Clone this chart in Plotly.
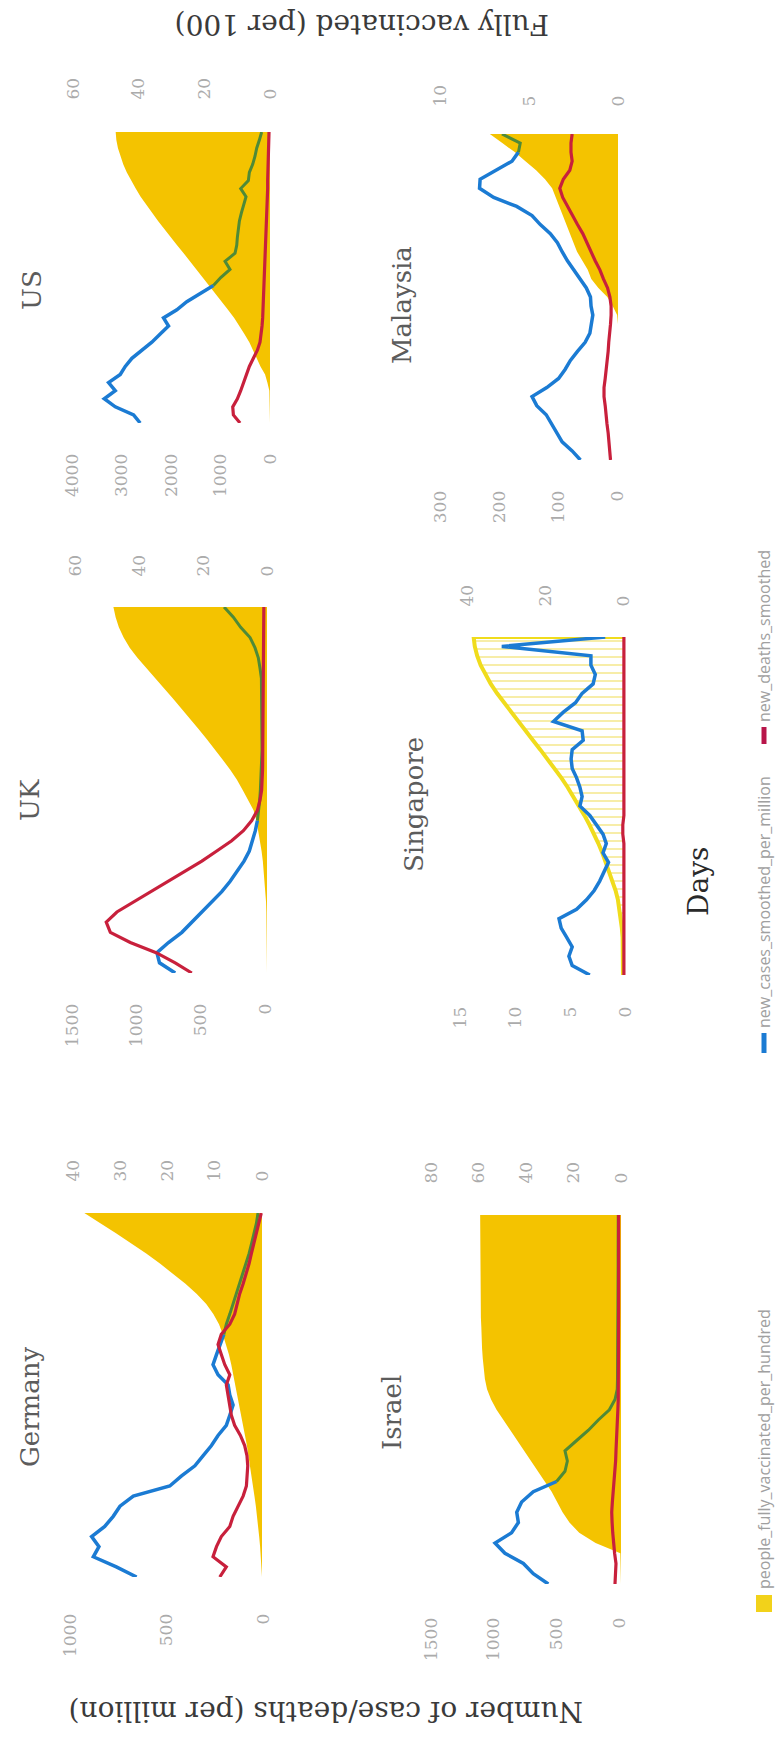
import plotly.graph_objects as go

W, H = 775, 1741

# ---------------- data ----------------
DAYS = [0, 5, 10, 15, 20, 25, 30, 35, 40, 45, 50, 55, 60, 65, 70, 75, 80, 85, 90,
        95, 100, 105, 110, 115, 120, 125, 130, 135, 140, 145, 150, 155, 160, 165,
        170, 175, 180]

COUNTRIES = ["Germany", "UK", "US", "Israel", "Singapore", "Malaysia"]

GERMANY_CASES = [655, 760, 879, 850, 888, 820, 776, 741, 672, 483, 422, 353, 310, 267, 233, 190,
                 172, 155, 172, 181, 233, 259, 241, 224, 203, 190, 172, 155, 141, 124, 103, 86,
                 72, 59, 45, 34, 26]
GERMANY_DEATHS = [224, 190, 259, 241, 216, 172, 155, 129, 103, 86, 83, 79, 83, 95, 117, 147,
                  164, 172, 181, 190, 172, 198, 216, 233, 216, 172, 147, 134, 121, 103, 86, 72,
                  60, 47, 34, 21, 9]
GERMANY_VACC = [0, 0.1, 0.2, 0.4, 0.6, 0.8, 1.0, 1.3, 1.6, 1.9, 2.2, 2.5, 2.8, 3.2, 3.6, 4.0,
                4.4, 4.8, 5.2, 5.6, 6.0, 6.5, 7.0, 7.6, 8.3, 9.1, 10.3, 11.8, 13.8, 16.2, 18.8,
                21.6, 24.5, 27.6, 30.9, 34.3, 37.6]

UK_CASES = [698, 820, 840, 750, 646, 569, 491, 414, 336, 272, 215, 163, 122, 96, 75, 59, 49,
            41, 36, 31, 28, 26, 23, 23, 23, 23, 23, 23, 26, 28, 39, 52, 78, 116, 189, 246, 318]
UK_DEATHS = [569, 698, 846, 1047, 1202, 1234, 1151, 1021, 892, 750, 621, 491, 375, 259, 168,
             103, 59, 39, 26, 21, 19, 18, 17, 16, 15, 14, 13, 12, 12, 11, 11, 10, 10, 10, 9, 9, 9]
UK_VACC = [0, 0, 0, 0, 0, 0.05, 0.2, 0.3, 0.5, 0.7, 1.0, 1.3, 1.7, 2.2, 2.7, 3.3, 4.2, 5.8,
           7.6, 9.4, 11.5, 13.9, 16.3, 18.8, 21.4, 24.0, 26.7, 29.4, 32.2, 35.0, 37.9, 40.5,
           42.9, 44.8, 46.3, 47.3, 48.0]

US_CASES = [2622, 2756, 3126, 3348, 3126, 3261, 3025, 2924, 2790, 2588, 2387, 2218, 2050, 2151,
            1882, 1681, 1425, 1143, 995, 808, 908, 706, 672, 659, 645, 618, 578, 538, 484, 592,
            437, 417, 350, 303, 269, 215, 168]
US_DEATHS = [605, 740, 753, 659, 592, 538, 484, 417, 336, 255, 202, 175, 161, 148, 141, 134,
             128, 121, 114, 114, 108, 101, 94, 87, 81, 74, 67, 60, 54, 47, 47, 40, 34, 34, 27,
             27, 20]
US_VACC = [0, 0, 0, 0, 0.2, 0.8, 1.5, 2.9, 4.0, 5.2, 6.3, 7.8, 9.3, 10.9, 12.8, 14.7, 16.6,
           18.5, 20.4, 22.4, 24.3, 26.3, 28.3, 30.3, 32.2, 34.1, 35.9, 37.7, 39.4, 40.9, 42.3,
           43.6, 44.7, 45.6, 46.3, 46.8, 47.0]

ISRAEL_CASES = [564, 684, 763, 910, 989, 857, 803, 816, 777, 684, 498, 431, 412, 431, 338, 244,
                165, 77, 32, 14, 12, 11, 10, 10, 9, 9, 8, 8, 8, 7, 7, 7, 7, 6, 6, 6, 6]
ISRAEL_DEATHS = [32, 27, 24, 35, 45, 50, 55, 58, 53, 45, 38, 32, 27, 24, 19, 15, 12, 9, 6, 5,
                 4, 4, 3, 3, 3, 3, 3, 3, 3, 3, 3, 3, 3, 3, 3, 3, 3]
ISRAEL_VACC = [0, 0, 0, 0.3, 10.7, 17.6, 21.7, 24.6, 26.9, 29.2, 32.1, 35.0, 37.9, 40.8, 43.7,
               46.6, 49.5, 52.4, 54.7, 56.4, 57.3, 57.9, 58.2, 58.5, 58.8, 58.8, 59.0, 59.0,
               59.1, 59.2, 59.2, 59.3, 59.3, 59.3, 59.3, 59.3, 59.3]

SINGAPORE_CASES = [3.2, 4.8, 5.1, 4.8, 5.3, 5.8, 6.0, 4.4, 3.5, 2.8, 2.3, 1.9, 1.5, 2.0, 1.7,
                   2.0, 2.6, 3.2, 4.1, 3.9, 4.1, 4.4, 4.8, 4.9, 4.8, 3.8, 3.9, 6.5, 5.6, 4.5,
                   3.9, 2.9, 2.7, 3.1, 3.1, 11.2, 1.8]
SINGAPORE_DEATHS = [0.1, 0.1, 0.1, 0.1, 0.1, 0.1, 0.1, 0.1, 0.1, 0.1, 0.1, 0.1, 0.1, 0.1, 0.1,
                    0.2, 0.2, 0.1, 0.1, 0.1, 0.1, 0.1, 0.1, 0.1, 0.1, 0.1, 0.1, 0.1, 0.1, 0.1,
                    0.1, 0.1, 0.1, 0.1, 0.1, 0.1, 0.1]
SINGAPORE_VACC = [0, 0, 0, 0, 0.1, 0.3, 0.6, 0.9, 1.3, 1.9, 2.7, 3.5, 4.4, 5.3, 6.3, 7.4, 8.6,
                  9.9, 11.3, 12.7, 14.2, 15.8, 17.5, 19.3, 21.2, 23.1, 25.0, 26.9, 28.8, 30.6,
                  32.3, 33.9, 35.3, 36.5, 37.4, 38.0, 38.3]

MALAYSIA_CASES = [62, 76, 93, 102, 110, 120, 136, 144, 119, 99, 88, 79, 67, 54, 46, 44, 41, 44,
                  45, 52, 63, 74, 84, 93, 101, 113, 130, 144, 170, 209, 233, 232, 204, 178, 167,
                  164, 195]
MALAYSIA_DEATHS = [11, 12, 14, 15, 17, 18, 20, 22, 22, 20, 18, 17, 15, 14, 12, 11, 10, 10, 12,
                   16, 23, 29, 37, 44, 51, 58, 67, 75, 84, 92, 97, 91, 80, 76, 78, 78, 76]
MALAYSIA_VACC = [0, 0, 0, 0, 0, 0, 0, 0, 0, 0, 0, 0, 0, 0, 0, 0, 0.05, 0.3, 0.6, 1.1, 1.5, 1.7,
                 2.0, 2.3, 2.5, 2.7, 2.9, 3.1, 3.3, 3.5, 3.7, 4.1, 4.6, 5.2, 5.8, 6.5, 7.2]

CASES = {"Germany": GERMANY_CASES, "UK": UK_CASES, "US": US_CASES, "Israel": ISRAEL_CASES,
         "Singapore": SINGAPORE_CASES, "Malaysia": MALAYSIA_CASES}
DEATHS = {"Germany": GERMANY_DEATHS, "UK": UK_DEATHS, "US": US_DEATHS, "Israel": ISRAEL_DEATHS,
          "Singapore": SINGAPORE_DEATHS, "Malaysia": MALAYSIA_DEATHS}
VACC = {"Germany": GERMANY_VACC, "UK": UK_VACC, "US": US_VACC, "Israel": ISRAEL_VACC,
        "Singapore": SINGAPORE_VACC, "Malaysia": MALAYSIA_VACC}

CASE_TICKS = {"Germany": [0, 500, 1000], "UK": [0, 500, 1000, 1500],
              "US": [0, 1000, 2000, 3000, 4000], "Israel": [0, 500, 1000, 1500],
              "Singapore": [0, 5, 10, 15], "Malaysia": [0, 100, 200, 300]}
VACC_TICKS = {"Germany": [0, 10, 20, 30, 40], "UK": [0, 20, 40, 60], "US": [0, 20, 40, 60],
              "Israel": [0, 20, 40, 60, 80], "Singapore": [0, 20, 40], "Malaysia": [0, 5, 10]}

LEGEND_LABELS = ["people_fully_vaccinated_per_hundred", "new_cases_smoothed_per_million",
                 "new_deaths_smoothed"]

# ---------------- styling / geometry (pixels of the 775x1741 page) ----------------
YELLOW = "#F4C300"
BLUE = "#1B7BD3"
GREEN = "#4F8A37"
RED = "#C8203C"
TICK_COLOR = "#ABABAB"
SERIF = "DejaVu Serif"

# ypx: (top, bottom) of day-axis; xdom: (left, right); cal: (px at 0, px at last tick)
STYLE = {
    "Germany":   dict(ypx=(1213, 1577), xdom=(45, 285), case_cal=(263, 70), vacc_cal=(262, 73),
                      green_from=24, title=(30, 1407), tl_bot=29, tl_top=27),
    "UK":        dict(ypx=(607, 973), xdom=(45, 285), case_cal=(265, 72), vacc_cal=(267, 75),
                      green_from=15, title=(30, 800), tl_bot=23, tl_top=26),
    "US":        dict(ypx=(132, 423), xdom=(45, 285), case_cal=(270, 72), vacc_cal=(270, 73),
                      green_from=17, title=(32, 290), tl_bot=23, tl_top=28),
    "Israel":    dict(ypx=(1215, 1584), xdom=(420, 640), case_cal=(619, 431), vacc_cal=(621, 431),
                      green_from=10, title=(392, 1413), tl_bot=26, tl_top=27),
    "Singapore": dict(ypx=(637, 975), xdom=(420, 640), case_cal=(625, 460), vacc_cal=(623, 467),
                      green_from=None, title=(414, 805), tl_bot=24, tl_top=26),
    "Malaysia":  dict(ypx=(134, 460), xdom=(420, 640), case_cal=(617, 440), vacc_cal=(618, 440),
                      green_from=34, title=(402, 305), tl_bot=23, tl_top=23),
}


def px_range(dom, cal, ref_value):
    """Axis range so that value 0 sits at cal[0] px and ref_value at cal[1] px."""
    p0, p1 = cal
    s = (p1 - p0) / ref_value
    return [(dom[0] - p0) / s, (dom[1] - p0) / s]


fig = go.Figure()
layout = {}
annotations = []

for i, name in enumerate(COUNTRIES):
    st = STYLE[name]
    vx_id, cx_id, y_id = 2 * i + 1, 2 * i + 2, i + 1
    vx = "x" if vx_id == 1 else f"x{vx_id}"
    cx = f"x{cx_id}"
    yy = "y" if y_id == 1 else f"y{y_id}"

    vacc = VACC[name]
    cases = CASES[name]
    deaths = DEATHS[name]

    # vaccinated area (base layer)
    if name == "Singapore":
        fig.add_trace(go.Scatter(
            x=vacc + [0], y=DAYS + [DAYS[-1]], xaxis=vx, yaxis=yy, mode="lines",
            fill="toself", fillcolor="rgba(0,0,0,0)",
            fillpattern=dict(shape="-", fgcolor="#EFDC52", size=8, solidity=0.25),
            line=dict(color="#F0DC1C", width=4), hoverinfo="skip", showlegend=False))
    else:
        fig.add_trace(go.Scatter(
            x=vacc, y=DAYS, xaxis=vx, yaxis=yy, mode="lines", fill="tozerox",
            fillcolor=YELLOW, line=dict(width=0, color=YELLOW),
            hoverinfo="skip", showlegend=False))

    # cases line (blue, turns green inside the vaccinated area)
    g = st["green_from"]
    if g is None:
        fig.add_trace(go.Scatter(x=cases, y=DAYS, xaxis=cx, yaxis=yy, mode="lines",
                                 line=dict(color=BLUE, width=3.5), showlegend=False))
    else:
        fig.add_trace(go.Scatter(x=cases[:g + 1], y=DAYS[:g + 1], xaxis=cx, yaxis=yy,
                                 mode="lines", line=dict(color=BLUE, width=3.5),
                                 showlegend=False))
        fig.add_trace(go.Scatter(x=cases[g:], y=DAYS[g:], xaxis=cx, yaxis=yy,
                                 mode="lines", line=dict(color=GREEN, width=3),
                                 showlegend=False))
    # deaths line
    fig.add_trace(go.Scatter(x=deaths, y=DAYS, xaxis=cx, yaxis=yy, mode="lines",
                             line=dict(color=RED, width=3.2), showlegend=False))

    top, bot = st["ypx"]
    ydom = [1 - bot / H, 1 - top / H]
    xdom = [st["xdom"][0] / W, st["xdom"][1] / W]
    common = dict(domain=xdom, anchor=yy, showgrid=False, zeroline=False, showline=False,
                  ticks="outside", tickcolor="rgba(0,0,0,0)", tickangle=-90,
                  tickfont=dict(family=SERIF, size=17, color=TICK_COLOR),
                  tickmode="array")
    layout["xaxis" if vx_id == 1 else f"xaxis{vx_id}"] = dict(
        common, side="top", ticklen=st["tl_top"],
        range=px_range(st["xdom"], st["vacc_cal"], VACC_TICKS[name][-1]),
        tickvals=VACC_TICKS[name], ticktext=[str(v) for v in VACC_TICKS[name]])
    layout[f"xaxis{cx_id}"] = dict(
        common, side="bottom", overlaying=vx, ticklen=st["tl_bot"],
        range=px_range(st["xdom"], st["case_cal"], CASE_TICKS[name][-1]),
        tickvals=CASE_TICKS[name], ticktext=[str(v) for v in CASE_TICKS[name]])
    layout["yaxis" if y_id == 1 else f"yaxis{y_id}"] = dict(
        domain=ydom, anchor=vx, range=[DAYS[0], DAYS[-1]], visible=False)

    tx, ty = st["title"]
    annotations.append(dict(x=tx / W, y=1 - ty / H, xref="paper", yref="paper", text=name,
                            textangle=-90, showarrow=False, xanchor="center", yanchor="middle",
                            font=dict(family=SERIF, size=26, color="#5C5C5C")))

# axis titles
annotations.append(dict(x=326 / W, y=1 - 1712 / H, xref="paper", yref="paper",
                        text="Number of case/deaths (per million)", textangle=180,
                        showarrow=False, xanchor="center", yanchor="middle",
                        font=dict(family=SERIF, size=28, color="#3A3A3A")))
annotations.append(dict(x=362 / W, y=1 - 25 / H, xref="paper", yref="paper",
                        text="Fully vaccinated (per 100)", textangle=180,
                        showarrow=False, xanchor="center", yanchor="middle",
                        font=dict(family=SERIF, size=28, color="#3A3A3A")))
annotations.append(dict(x=698 / W, y=1 - 882 / H, xref="paper", yref="paper",
                        text="Days", textangle=-90, showarrow=False,
                        xanchor="center", yanchor="middle",
                        font=dict(family=SERIF, size=28, color="#2A2A2A")))

# legend (drawn rotated, reading upward along the right edge)
LX = 764
shapes = [
    dict(type="rect", xref="paper", yref="paper", x0=(LX - 8) / W, x1=(LX + 8) / W,
         y0=1 - 1612 / H, y1=1 - 1595 / H, fillcolor="#F2D21A", line=dict(width=0)),
    dict(type="line", xref="paper", yref="paper", x0=LX / W, x1=LX / W,
         y0=1 - 1053 / H, y1=1 - 1033 / H, line=dict(color=BLUE, width=5)),
    dict(type="line", xref="paper", yref="paper", x0=LX / W, x1=LX / W,
         y0=1 - 744 / H, y1=1 - 727 / H, line=dict(color="#B8154A", width=5)),
]
for label, ybottom in zip(LEGEND_LABELS, [1591, 1030, 724]):
    annotations.append(dict(x=LX / W, y=1 - ybottom / H, xref="paper", yref="paper",
                            text=label, textangle=-90, showarrow=False,
                            xanchor="center", yanchor="bottom",
                            font=dict(family="Open Sans", size=16, color="#A0A0A0")))

fig.update_layout(
    width=W, height=H, margin=dict(l=0, r=0, t=0, b=0),
    paper_bgcolor="white", plot_bgcolor="white", showlegend=False,
    annotations=annotations, shapes=shapes, **layout)

fig.write_html("out.html", config={"displayModeBar": False},
               post_script="document.body.style.margin='0';")
